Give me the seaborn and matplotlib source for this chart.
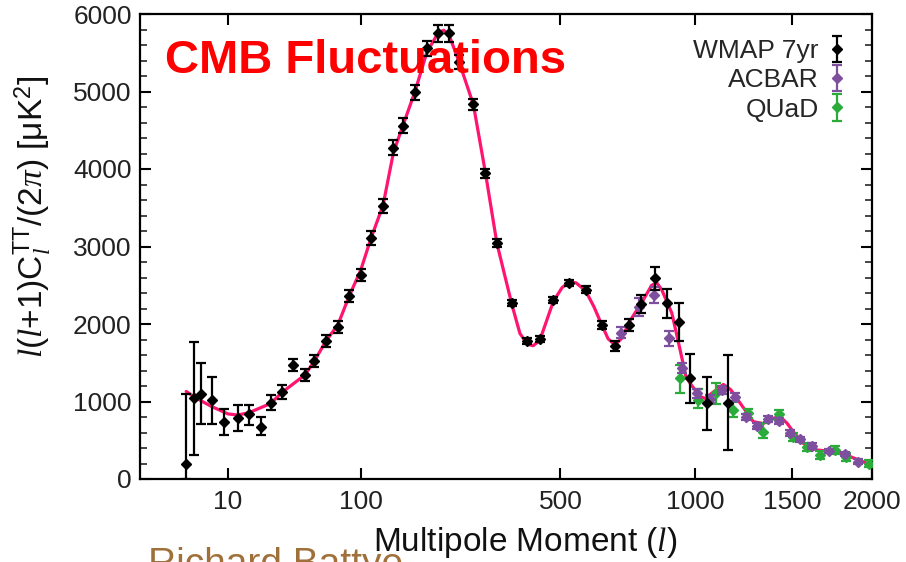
import numpy as np
import matplotlib
matplotlib.use("Agg")
import matplotlib.pyplot as plt
import seaborn as sns
from matplotlib.ticker import MultipleLocator, FixedLocator

# ---------------- data ----------------
theory_l = [2, 3, 4, 6, 10, 13, 17, 27, 33, 48, 55, 65, 76, 87, 100, 112, 127, 141, 155, 173,
            192, 212, 222, 232, 250, 280, 306, 332, 368, 388, 407, 423, 441, 479, 505, 527, 548,
            578, 606, 632, 654, 678, 704, 731, 777, 817, 838, 858, 900, 935, 961, 979, 1024, 1047,
            1080, 1134, 1171, 1217, 1285, 1338, 1384, 1430, 1469, 1505, 1563, 1644, 1747, 1853,
            1964, 2000]
theory_D = [1130, 1060, 1010, 935, 840, 825, 855, 975, 1115, 1340, 1510, 1780, 1990, 2350, 2700,
            3110, 3530, 4210, 4570, 5000, 5500, 5760, 5790, 5720, 5400, 4830, 3950, 3040, 2250,
            1880, 1740, 1720, 1790, 2290, 2470, 2545, 2530, 2430, 2220, 1990, 1810, 1730, 1820,
            2030, 2270, 2500, 2530, 2440, 2140, 1670, 1320, 1235, 1065, 1040, 1110, 1220, 1150,
            980, 740, 715, 780, 805, 720, 610, 460, 375, 352, 290, 205, 180]

wmap_l = [2, 3, 4, 6, 9, 13, 17, 22, 27, 33, 40, 48, 55, 65, 76, 87, 100, 112, 127, 141, 155,
          173, 192, 212, 232, 250, 280, 306, 332, 368, 407, 441, 479, 527, 578, 632, 678, 731,
          777, 830, 878, 931, 979, 1055, 1155]
wmap_D = [200, 1049, 1100, 1015, 740, 783, 839, 675, 985, 1127, 1471, 1342, 1523, 1780, 1960,
          2360, 2630, 3110, 3527, 4275, 4559, 4990, 5557, 5751, 5751, 5385, 4835, 3944, 3041,
          2271, 1780, 1806, 2310, 2525, 2439, 1987, 1720, 1987, 2258, 2590, 2267, 2030, 1299,
          977, 985]
wmap_lo = [200, 740, 390, 305, 172, 164, 142, 107, 95, 90, 80, 80, 80, 80, 80, 80, 80, 90, 90,
           100, 100, 100, 100, 110, 110, 90, 70, 60, 50, 40, 40, 40, 40, 40, 45, 55, 65, 80, 110,
           150, 190, 245, 314, 340, 611]
wmap_hi = [900, 720, 393, 305, 160, 172, 116, 129, 99, 90, 80, 80, 80, 80, 80, 80, 80, 90, 90,
           100, 100, 100, 100, 110, 110, 90, 70, 60, 50, 40, 40, 40, 40, 40, 45, 55, 65, 80, 110,
           150, 190, 245, 314, 340, 611]

acbar_l = [699, 769, 827, 888, 942, 1009, 1071, 1126, 1192, 1246, 1303, 1365, 1426, 1486, 1544,
           1617, 1721, 1821, 1908]
acbar_D = [1888, 2215, 2374, 1815, 1428, 1106, 1032, 1148, 1062, 804, 684, 770, 748, 597, 512,
           426, 361, 323, 223]
acbar_err = [70, 115, 100, 95, 65, 60, 50, 50, 50, 40, 40, 40, 40, 40, 35, 35, 30, 30, 30]

quad_l = [935, 1016, 1099, 1183, 1260, 1338, 1426, 1506, 1588, 1664, 1757, 1828, 1980]
quad_D = [1299, 1019, 1114, 890, 848, 610, 839, 546, 417, 310, 374, 288, 200]
quad_lo = [185, 107, 146, 86, 60, 85, 78, 50, 50, 50, 50, 50, 40]
quad_hi = [172, 138, 121, 107, 60, 108, 51, 50, 50, 50, 50, 50, 40]

x_ticks = [10, 100, 500, 1000, 1500, 2000]
x_ticklabels = ["10", "100", "500", "1000", "1500", "2000"]
series_names = ["WMAP 7yr", "ACBAR", "QUaD"]

# ---------------- style ----------------
sns.set_theme(style="ticks")
plt.rcParams["font.family"] = ["Liberation Sans", "DejaVu Sans"]
plt.rcParams["mathtext.fontset"] = "custom"
plt.rcParams["mathtext.rm"] = "Liberation Sans"
plt.rcParams["mathtext.it"] = "Liberation Serif:italic"
plt.rcParams["mathtext.bf"] = "Liberation Sans:bold"

fig = plt.figure(figsize=(9.06, 5.62), dpi=100)
ax = fig.add_axes([140 / 906, 1 - 479 / 562, 732 / 906, 465 / 562])

fwd = lambda x: np.sign(x) * np.abs(x) ** 0.4
inv = lambda y: np.sign(y) * np.abs(y) ** 2.5
ax.set_xscale("function", functions=(fwd, inv))

c_theory = "#ff1470"
c_wmap = "black"
c_acbar = "#7d4f9e"
c_quad = "#2bab3a"

sns.lineplot(x=theory_l, y=theory_D, ax=ax, color=c_theory, linewidth=2.3, zorder=2)

ekw = dict(capsize=3.8, elinewidth=1.6, capthick=1.6, markersize=5, linestyle="none")
h_q = ax.errorbar(quad_l, quad_D, yerr=[quad_lo, quad_hi], fmt="D", color=c_quad, zorder=3, **ekw)
h_a = ax.errorbar(acbar_l, acbar_D, yerr=acbar_err, fmt="D", color=c_acbar, zorder=4, **ekw)
h_w = ax.errorbar(wmap_l, wmap_D, yerr=[wmap_lo, wmap_hi], fmt="D", color=c_wmap, zorder=5, **ekw)

ax.set_xlim(0, 2000)
ax.set_ylim(0, 6000)
ax.xaxis.set_major_locator(FixedLocator(x_ticks))
ax.set_xticklabels(x_ticklabels)
ax.xaxis.set_minor_locator(FixedLocator([]))
ax.yaxis.set_major_locator(MultipleLocator(1000))
ax.yaxis.set_minor_locator(MultipleLocator(200))

for s in ax.spines.values():
    s.set_visible(True)
    s.set_linewidth(1.6)
    s.set_color("black")

ax.tick_params(axis="both", which="major", direction="in", length=8, width=1.5,
               top=True, right=True, labelsize=19, colors="black", pad=8)
ax.tick_params(axis="both", which="minor", direction="in", length=5, width=1.2,
               top=True, right=True)
ax.tick_params(axis="y", which="major", pad=6)
for t in ax.get_xticklabels() + ax.get_yticklabels():
    t.set_color("#222222")

ax.set_xlabel("Multipole Moment ($\\mathit{l}$)", fontsize=24, color="#111111")
ax.xaxis.set_label_coords(0.526, -0.098)
ax.set_ylabel(r"$\mathit{l}$($\mathit{l}$+1)C$_{\mathit{l}}^{\rm TT}$/(2$\pi$) [μK$^2$]",
              fontsize=24, color="#111111")
ax.yaxis.set_label_coords(-0.117, 0.563)

leg = ax.legend([h_w, h_a, h_q], series_names, loc="upper right", markerfirst=False,
                frameon=False, fontsize=19, handlelength=0.5, handletextpad=0.45,
                labelspacing=0.2, bbox_to_anchor=(0.983, 0.98), borderaxespad=0.2)

fig.text(165 / 906, 1 - 73 / 562, "CMB Fluctuations", color="#ff0000", fontsize=34,
         fontweight="bold", va="baseline", ha="left")
fig.text(148 / 906, 1 - 547 / 562, "Richard Battye", color="#a0703a", fontsize=28,
         va="top", ha="left")

fig.savefig("out.png", dpi=100)
